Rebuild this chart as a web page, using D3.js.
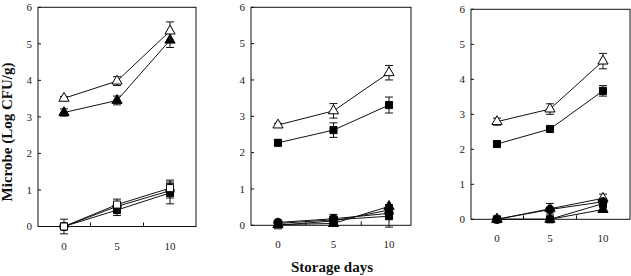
<!DOCTYPE html>
<html lang="en">
<head>
<meta charset="UTF-8">
<title>Microbe counts during storage</title>
<style>
    body { margin: 0; background: #fff; }
    svg { display: block; font-family: "Liberation Serif", "Times New Roman", serif; }
    .tick-label { font-size: 11px; fill: #222; }
    .title { font-weight: bold; fill: #111; }
</style>
<script src="https://d3js.org/d3.v7.min.js"></script>
</head>
<body>
<div id="chart"></div>
<script>
    // x values and tick labels
    var days = [0, 5, 10];
    var yTicks = [0, 1, 2, 3, 4, 5, 6];
    var xMinorTicks = [2.5, 7.5];

    // panel 1
    var p1OpenTri = [3.51, 3.98, 5.35], p1OpenTriErr = [0.05, 0.12, 0.25];
    var p1FillTri = [3.12, 3.45, 5.1], p1FillTriErr = [0.1, 0.12, 0.2];
    var p1OpenSq = [0, 0.6, 1.05], p1OpenSqErr = [0.2, 0.15, 0.22];
    var p1FillSq = [0, 0.45, 0.92], p1FillSqErr = [0.05, 0.15, 0.3];
    var p1FillCirc = [0, 0.55, 0.98], p1FillCircErr = [0, 0.1, 0.2];

    // panel 2
    var p2OpenTri = [2.76, 3.15, 4.2], p2OpenTriErr = [0.05, 0.2, 0.2];
    var p2FillSq = [2.27, 2.62, 3.31], p2FillSqErr = [0.08, 0.2, 0.22];
    var p2FillTri = [0.02, 0.05, 0.52], p2FillTriErr = [0, 0, 0.05];
    var p2OpenSq = [0, 0.12, 0.42], p2OpenSqErr = [0, 0.05, 0.1];
    var p2FillCirc = [0.08, 0.18, 0.33], p2FillCircErr = [0.03, 0.12, 0.1];
    var p2FillSqLow = [0.05, 0.15, 0.25], p2FillSqLowErr = [0.03, 0.1, 0.3];

    // panel 3
    var p3OpenTri = [2.79, 3.15, 4.52], p3OpenTriErr = [0.1, 0.15, 0.22];
    var p3FillSq = [2.15, 2.58, 3.67], p3FillSqErr = [0.03, 0.03, 0.15];
    var p3OpenTriLow = [0, 0.3, 0.6], p3OpenTriLowErr = [0, 0.15, 0.12];
    var p3FillCirc = [0, 0.28, 0.5], p3FillCircErr = [0, 0.05, 0.08];
    var p3FillSqLow = [0, 0, 0.45], p3FillSqLowErr = [0, 0, 0.05];
    var p3FillTriLow = [0, 0, 0.28], p3FillTriLowErr = [0, 0, 0.05];

    var width = 631, height = 276;

    var panels = [
        { x: [38, 196], xd: [-2.45, 12.45], y: [226.5, 7.3], series: [
            { v: p1FillSq, e: p1FillSqErr, shape: "square", fill: true },
            { v: p1FillCirc, e: p1FillCircErr, shape: "circle", fill: true },
            { v: p1OpenSq, e: p1OpenSqErr, shape: "square", fill: false },
            { v: p1FillTri, e: p1FillTriErr, shape: "triangle", fill: true },
            { v: p1OpenTri, e: p1OpenTriErr, shape: "triangle", fill: false }
        ]},
        { x: [251, 411], xd: [-2.43, 11.98], y: [225.3, 7.3], series: [
            { v: p2OpenSq, e: p2OpenSqErr, shape: "square", fill: false },
            { v: p2FillSqLow, e: p2FillSqLowErr, shape: "square", fill: true },
            { v: p2FillCirc, e: p2FillCircErr, shape: "circle", fill: true },
            { v: p2FillTri, e: p2FillTriErr, shape: "triangle", fill: true },
            { v: p2FillSq, e: p2FillSqErr, shape: "square", fill: true },
            { v: p2OpenTri, e: p2OpenTriErr, shape: "triangle", fill: false }
        ]},
        { x: [471, 630], xd: [-2.45, 12.55], y: [219.3, 9.3], series: [
            { v: p3FillTriLow, e: p3FillTriLowErr, shape: "triangle", fill: true },
            { v: p3FillSqLow, e: p3FillSqLowErr, shape: "square", fill: true },
            { v: p3OpenTriLow, e: p3OpenTriLowErr, shape: "triangle", fill: false },
            { v: p3FillCirc, e: p3FillCircErr, shape: "circle", fill: true },
            { v: p3FillSq, e: p3FillSqErr, shape: "square", fill: true },
            { v: p3OpenTri, e: p3OpenTriErr, shape: "triangle", fill: false }
        ]}
    ];

    var symbolFor = {
        square: d3.symbol().type(d3.symbolSquare).size(50),
        circle: d3.symbol().type(d3.symbolCircle).size(55),
        triangle: d3.symbol().type(d3.symbolTriangle).size(45)
    };

    var svg = d3.select("#chart").append("svg")
        .attr("width", width)
        .attr("height", height);

    panels.forEach(function(p) {
        var xScale = d3.scaleLinear().domain(p.xd).range(p.x);
        var yScale = d3.scaleLinear().domain([0, 6]).range(p.y);
        var g = svg.append("g");

        // frame
        g.append("rect")
            .attr("x", p.x[0]).attr("y", p.y[1])
            .attr("width", p.x[1] - p.x[0]).attr("height", p.y[0] - p.y[1])
            .attr("fill", "none").attr("stroke", "#111").attr("stroke-width", 1);

        // y tick labels
        g.selectAll(".ylab").data(yTicks).enter().append("text")
            .attr("class", "tick-label")
            .attr("x", p.x[0] - 6)
            .attr("y", function(d) { return yScale(d); })
            .attr("dy", "0.35em")
            .attr("text-anchor", "end")
            .text(function(d) { return d; });

        // small inner ticks on the left axis
        g.selectAll(".yt").data(yTicks).enter().append("line")
            .attr("x1", p.x[0]).attr("x2", p.x[0] + 3)
            .attr("y1", function(d) { return yScale(d); })
            .attr("y2", function(d) { return yScale(d); })
            .attr("stroke", "#111");

        // x tick labels
        g.selectAll(".xlab").data(days).enter().append("text")
            .attr("class", "tick-label")
            .attr("x", function(d) { return xScale(d); })
            .attr("y", p.y[0] + 23)
            .attr("text-anchor", "middle")
            .text(function(d) { return d; });

        // small inner ticks on bottom axis
        g.selectAll(".xt").data(xMinorTicks).enter().append("line")
            .attr("x1", function(d) { return xScale(d); })
            .attr("x2", function(d) { return xScale(d); })
            .attr("y1", p.y[0]).attr("y2", p.y[0] - 4)
            .attr("stroke", "#111");

        var line = d3.line()
            .x(function(d, i) { return xScale(days[i]); })
            .y(function(d) { return yScale(d); });

        p.series.forEach(function(s) {
            g.append("path")
                .attr("d", line(s.v))
                .attr("fill", "none")
                .attr("stroke", "#111")
                .attr("stroke-width", 1);

            // error bars
            s.v.forEach(function(val, i) {
                var err = s.e[i];
                if (err < 0.04) return;
                var cx = xScale(days[i]);
                var y1 = yScale(val + err), y2 = yScale(val - err);
                g.append("line").attr("x1", cx).attr("x2", cx).attr("y1", y1).attr("y2", y2)
                    .attr("stroke", "#111");
                [y1, y2].forEach(function(yy) {
                    g.append("line").attr("x1", cx - 4).attr("x2", cx + 4).attr("y1", yy).attr("y2", yy)
                        .attr("stroke", "#111");
                });
            });

            g.selectAll(null).data(s.v).enter().append("path")
                .attr("d", symbolFor[s.shape])
                .attr("transform", function(d, i) {
                    return "translate(" + xScale(days[i]) + "," + yScale(d) + ")";
                })
                .attr("fill", s.fill ? "#000" : "#fff")
                .attr("stroke", "#000")
                .attr("stroke-width", 1);
        });
    });

    // axis titles
    svg.append("text")
        .attr("class", "title")
        .style("font-size", "15px")
        .attr("transform", "translate(12,132) rotate(-90)")
        .attr("text-anchor", "middle")
        .text("Microbe (Log CFU/g)");

    svg.append("text")
        .attr("class", "title")
        .style("font-size", "15px")
        .attr("x", 332)
        .attr("y", 272)
        .attr("text-anchor", "middle")
        .text("Storage days");
</script>
</body>
</html>
